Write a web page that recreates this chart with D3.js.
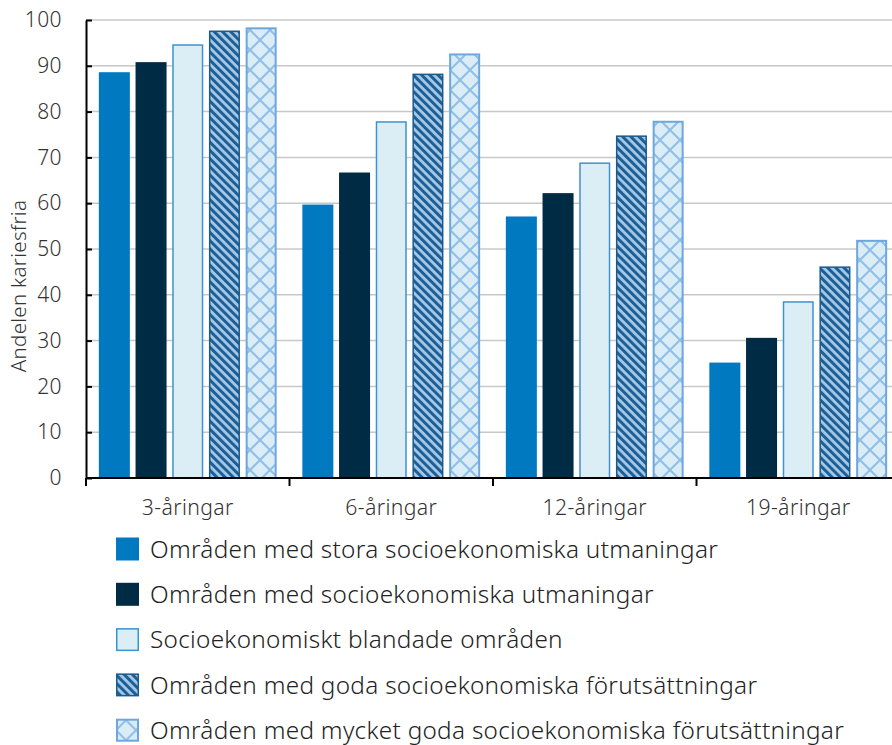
<!DOCTYPE html>
<html>
<head>
<meta charset="utf-8">
<script src="https://cdn.jsdelivr.net/npm/d3@7"></script>
<style>
  body { margin: 0; background: #fff; }
  svg { display: block; font-family: "Noto Sans", "Open Sans", sans-serif; font-weight: 300; }
</style>
</head>
<body>
<div class="container"></div>
<script>
const groups = ["3-åringar", "6-åringar", "12-åringar", "19-åringar"]
const series = [
  "Områden med stora socioekonomiska utmaningar",
  "Områden med socioekonomiska utmaningar",
  "Socioekonomiskt blandade områden",
  "Områden med goda socioekonomiska förutsättningar",
  "Områden med mycket goda socioekonomiska förutsättningar"
]
const stora = [88.6, 59.7, 57.1, 25.2]
const utmaningar = [90.8, 66.7, 62.2, 30.6]
const blandade = [94.7, 77.9, 68.9, 38.6]
const goda = [97.7, 88.3, 74.8, 46.2]
const myckGoda = [98.4, 92.7, 78.0, 52.0]
const values = [stora, utmaningar, blandade, goda, myckGoda]
const yTicks = [0, 10, 20, 30, 40, 50, 60, 70, 80, 90, 100]

const w = 892
const h = 745
const padLeft = 86
const padTop = 20
const axisY = 478

const fills = ["#0079c1", "#002b45", "#dbeef6", "url(#stripes)", "url(#cross)"]
const strokes = ["#0079c1", "#002b45", "#3d93d1", "#1b5a8e", "#6ea7dd"]
const strokeW = [0, 0, 1.5, 1.5, 2]

const svg = d3.select(".container").append("svg")
  .attr("width", w)
  .attr("height", h)

// patterns
const defs = svg.append("defs")
const stripes = defs.append("pattern")
  .attr("id", "stripes")
  .attr("patternUnits", "userSpaceOnUse")
  .attr("width", 5.8).attr("height", 10)
  .attr("patternTransform", "rotate(-45)")
stripes.append("rect").attr("width", 5.8).attr("height", 10).attr("fill", "#a7c9e5")
stripes.append("rect").attr("width", 3).attr("height", 10).attr("fill", "#1c5f96")

const cross = defs.append("pattern")
  .attr("id", "cross")
  .attr("patternUnits", "userSpaceOnUse")
  .attr("width", 20).attr("height", 20)
cross.append("rect").attr("width", 20).attr("height", 20).attr("fill", "#daedf7")
cross.append("path")
  .attr("d", "M0,0L20,20M20,0L0,20")
  .attr("stroke", "#8fbfe8")
  .attr("stroke-width", 2)

const x0 = d3.scaleBand().domain(groups).range([padLeft, 900])
const x1 = d3.scaleBand().domain(d3.range(series.length))
  .range([0, x0.bandwidth()])
  .paddingInner(0.155)
  .paddingOuter(0.35)
const y = d3.scaleLinear().domain([0, 100]).range([axisY, padTop])

// gridlines
svg.append("g")
  .selectAll("line")
  .data(yTicks.slice(1))
  .enter()
  .append("line")
  .attr("x1", padLeft).attr("x2", w)
  .attr("y1", d => y(d)).attr("y2", d => y(d))
  .attr("stroke", "#c8c8c8")
  .attr("stroke-width", 1.5)

// bars
const flat = []
groups.forEach((g, gi) => values.forEach((s, si) => flat.push({g: g, s: si, v: s[gi]})))
svg.append("g")
  .selectAll("rect")
  .data(flat)
  .enter()
  .append("rect")
  .attr("x", d => x0(d.g) + x1(d.s) + strokeW[d.s] / 2)
  .attr("y", d => y(d.v) + strokeW[d.s] / 2)
  .attr("width", d => x1.bandwidth() - strokeW[d.s])
  .attr("height", d => y(0) - y(d.v) - strokeW[d.s] / 2)
  .attr("fill", d => fills[d.s])
  .attr("stroke", d => strokeW[d.s] ? strokes[d.s] : "none")
  .attr("stroke-width", d => strokeW[d.s])

// y axis
const yAxis = d3.axisLeft(y)
  .tickValues(yTicks)
  .tickSizeInner(-6)
  .tickSizeOuter(0)
  .tickPadding(24)
const gy = svg.append("g")
  .attr("transform", "translate(" + padLeft + ",0)")
  .call(yAxis)
gy.select(".domain").attr("stroke", "#000").attr("stroke-width", 2)
gy.selectAll(".tick line").attr("stroke", "#000").attr("stroke-width", 2)
gy.selectAll("text")
  .attr("font-size", 21)
  .attr("fill", "#333")
  .attr("letter-spacing", 0.4)
  .style("font-family", "Noto Sans")
  .style("font-weight", 300)

// x axis
const gx = svg.append("g")
gx.append("line")
  .attr("x1", padLeft).attr("x2", w)
  .attr("y1", axisY).attr("y2", axisY)
  .attr("stroke", "#000").attr("stroke-width", 2)
const bounds = groups.map(g => x0(g)).concat([x0.range()[1]])
gx.selectAll(".xt")
  .data(bounds)
  .enter()
  .append("line")
  .attr("x1", d => d).attr("x2", d => d)
  .attr("y1", axisY).attr("y2", axisY + 8)
  .attr("stroke", "#000").attr("stroke-width", 2)
gx.selectAll("text")
  .data(groups)
  .enter()
  .append("text")
  .attr("x", d => x0(d) + x0.bandwidth() / 2)
  .attr("y", 515)
  .attr("text-anchor", "middle")
  .attr("font-size", 21.2)
  .attr("letter-spacing", 0.4)
  .attr("fill", "#333")
  .text(d => d)

// y label
svg.append("text")
  .attr("transform", "translate(26,286) rotate(-90)")
  .attr("text-anchor", "middle")
  .attr("font-size", 20.5)
  .attr("letter-spacing", 0.3)
  .attr("fill", "#333")
  .text("Andelen kariesfria")

// legend
const lg = svg.append("g")
const rows = lg.selectAll("g")
  .data(series)
  .enter()
  .append("g")
  .attr("transform", (d, i) => "translate(116," + (549 + i * 45.3) + ")")
rows.append("rect")
  .attr("x", (d, i) => strokeW[i] / 2)
  .attr("y", (d, i) => -11.5 + strokeW[i] / 2)
  .attr("width", (d, i) => 23 - strokeW[i])
  .attr("height", (d, i) => 23 - strokeW[i])
  .attr("fill", (d, i) => fills[i])
  .attr("stroke", (d, i) => strokeW[i] ? strokes[i] : "none")
  .attr("stroke-width", (d, i) => strokeW[i])
rows.append("text")
  .attr("x", 34)
  .attr("y", 0)
  .attr("dy", "0.36em")
  .attr("font-size", 24.3)
  .attr("letter-spacing", 0.3)
  .attr("fill", "#222")
  .text(d => d)
</script>
</body>
</html>
